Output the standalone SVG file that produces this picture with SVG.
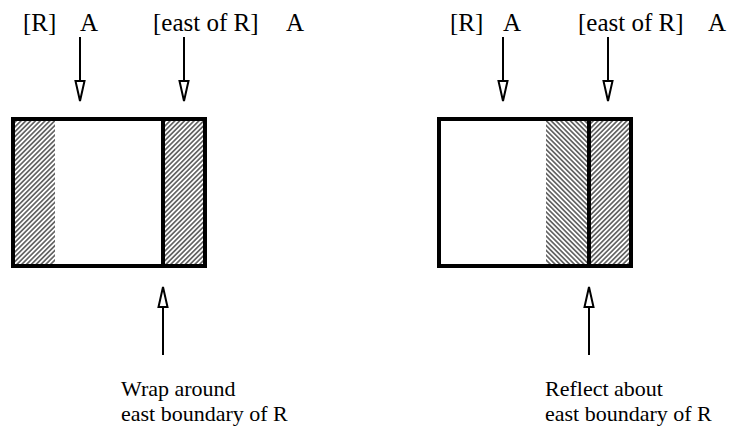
<svg xmlns="http://www.w3.org/2000/svg" width="747" height="437" viewBox="0 0 747 437">
<style>
  text { font-family: "Liberation Serif", "Times New Roman", serif; font-size: 22px; fill: #000; }
  .top { font-size: 25px; }
  .box { fill: none; stroke: #000; stroke-width: 4; }
  .div { stroke: #000; stroke-width: 4; }
  .arrow { stroke: #000; stroke-width: 2; fill: none; marker-end: url(#openhead); }
</style>
<defs>
  <marker id="openhead" markerUnits="userSpaceOnUse" viewBox="0 0 24 14" markerWidth="24" markerHeight="14" refX="22" refY="7" orient="auto">
    <path d="M2,2.5 L22,7 L2,11.5 Z" fill="#fff" stroke="#000" stroke-width="2" stroke-linejoin="miter"/>
  </marker>
  <pattern id="hatchF" patternUnits="userSpaceOnUse" width="3.4" height="10" patternTransform="rotate(45)">
    <rect x="1" y="0" width="1.4" height="10" fill="#444"/>
  </pattern>
  <pattern id="hatchB" patternUnits="userSpaceOnUse" width="3.4" height="10" patternTransform="rotate(-45)">
    <rect x="1" y="0" width="1.4" height="10" fill="#444"/>
  </pattern>
</defs>

<g id="wrap-box">
  <rect x="13" y="119" width="42" height="147" fill="url(#hatchF)"/>
  <rect x="163" y="119" width="42" height="147" fill="url(#hatchF)"/>
  <rect class="box" x="13" y="119" width="192" height="147"/>
  <line class="div" x1="163" y1="119" x2="163" y2="266"/>
</g>

<g id="reflect-box">
  <rect x="546" y="119" width="43" height="147" fill="url(#hatchB)"/>
  <rect x="589" y="119" width="42" height="147" fill="url(#hatchF)"/>
  <rect class="box" x="439" y="119" width="192" height="147"/>
  <line class="div" x1="589" y1="119" x2="589" y2="266"/>
</g>

<g id="labels-left">
  <text class="top" x="23" y="31">[R]</text>
  <text class="top" x="80" y="31">A</text>
  <text class="top" x="153" y="31">[east of R]</text>
  <text class="top" x="286" y="31">A</text>
</g>
<g id="labels-right">
  <text class="top" x="450" y="31">[R]</text>
  <text class="top" x="503" y="31">A</text>
  <text class="top" x="578" y="31">[east of R]</text>
  <text class="top" x="708" y="31">A</text>
</g>

<g id="caption-left">
  <text x="121" y="396">Wrap around</text>
  <text x="121" y="421">east boundary of R</text>
</g>
<g id="caption-right">
  <text x="545" y="396">Reflect about</text>
  <text x="545" y="421">east boundary of R</text>
</g>

<g id="connectors">
  <line class="arrow" x1="80" y1="37" x2="80" y2="101"/>
  <line class="arrow" x1="184" y1="37" x2="184" y2="101"/>
  <line class="arrow" x1="163" y1="355" x2="163" y2="287"/>
  <line class="arrow" x1="503" y1="37" x2="503" y2="101"/>
  <line class="arrow" x1="608" y1="37" x2="608" y2="101"/>
  <line class="arrow" x1="589" y1="355" x2="589" y2="287"/>
</g>
</svg>
